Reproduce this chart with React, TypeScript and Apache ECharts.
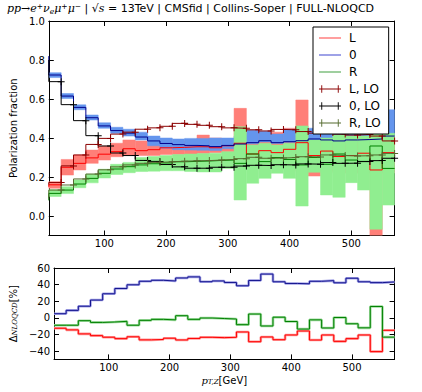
import React, { useEffect, useRef } from "react";
import * as echarts from "echarts";

// ---- data ----
const binEdges = [10, 30, 50, 70, 90, 110, 130, 150, 170, 190, 210, 230, 250, 270, 290, 310, 330, 350, 370, 390, 410, 430, 450, 470, 490, 510, 530, 550, 570];
const xTicks = [100, 200, 300, 400, 500];
const fracTicks = [0, 0.2, 0.4, 0.6, 0.8, 1.0];
const deltaTicks = [-40, -20, 0, 20, 40, 60];

// NLO polarization fractions (step lines)
const fracL_NLO = [0.16, 0.25, 0.27, 0.298, 0.317, 0.33, 0.345, 0.335, 0.34, 0.35, 0.352, 0.355, 0.355, 0.35, 0.36, 0.373, 0.318, 0.335, 0.325, 0.342, 0.376, 0.31, 0.333, 0.305, 0.31, 0.322, 0.236, 0.325];
const frac0_NLO = [0.723, 0.615, 0.557, 0.504, 0.462, 0.438, 0.425, 0.405, 0.385, 0.372, 0.366, 0.362, 0.36, 0.356, 0.362, 0.369, 0.376, 0.386, 0.376, 0.381, 0.386, 0.395, 0.39, 0.385, 0.39, 0.392, 0.395, 0.41];
const fracR_NLO = [0.116, 0.133, 0.164, 0.193, 0.219, 0.241, 0.253, 0.262, 0.268, 0.272, 0.278, 0.28, 0.282, 0.285, 0.287, 0.27, 0.318, 0.279, 0.3, 0.29, 0.262, 0.3, 0.265, 0.318, 0.287, 0.28, 0.359, 0.244];
// NLO uncertainty bands
const bandL_lo = [0.142, 0.21, 0.236, 0.27, 0.287, 0.304, 0.313, 0.31, 0.31, 0.315, 0.315, 0.318, 0.32, 0.325, 0.33, 0.25, 0.24, 0.25, 0.25, 0.24, 0.23, 0.205, 0.23, 0.22, 0.22, 0.22, -0.1, 0.22];
const bandL_hi = [0.176, 0.29, 0.313, 0.338, 0.359, 0.373, 0.39, 0.385, 0.385, 0.38, 0.385, 0.385, 0.415, 0.4, 0.39, 0.552, 0.44, 0.42, 0.43, 0.45, 0.595, 0.39, 0.4, 0.39, 0.4, 0.4, 0.34, 0.41];
const band0_lo = [0.71, 0.603, 0.545, 0.492, 0.45, 0.424, 0.41, 0.39, 0.36, 0.348, 0.34, 0.338, 0.337, 0.336, 0.345, 0.355, 0.37, 0.38, 0.372, 0.378, 0.38, 0.39, 0.375, 0.37, 0.38, 0.38, 0.38, 0.41];
const band0_hi = [0.735, 0.628, 0.57, 0.518, 0.478, 0.455, 0.445, 0.43, 0.41, 0.4, 0.395, 0.398, 0.398, 0.4, 0.4, 0.41, 0.44, 0.435, 0.42, 0.445, 0.44, 0.45, 0.42, 0.42, 0.43, 0.43, 0.43, 0.545];
const bandR_lo = [0.1, 0.115, 0.145, 0.17, 0.195, 0.213, 0.222, 0.228, 0.23, 0.232, 0.232, 0.228, 0.226, 0.226, 0.244, 0.082, 0.168, 0.193, 0.219, 0.193, 0.051, 0.224, 0.108, 0.096, 0.171, 0.133, -0.068, 0.056];
const bandR_hi = [0.135, 0.15, 0.185, 0.215, 0.24, 0.265, 0.275, 0.3, 0.305, 0.31, 0.315, 0.318, 0.32, 0.322, 0.33, 0.458, 0.364, 0.373, 0.364, 0.373, 0.462, 0.39, 0.4, 0.415, 0.41, 0.41, 0.42, 0.424];
// LO polarization fractions
const fracL_LO = [0.172, 0.257, 0.313, 0.367, 0.398, 0.42, 0.43, 0.445, 0.452, 0.46, 0.475, 0.47, 0.465, 0.458, 0.452, 0.45, 0.442, 0.436, 0.444, 0.442, 0.433, 0.425, 0.428, 0.42, 0.415, 0.418, 0.41, 0.385];
const frac0_LO = [0.689, 0.571, 0.489, 0.412, 0.359, 0.323, 0.31, 0.285, 0.28, 0.264, 0.252, 0.245, 0.245, 0.25, 0.25, 0.256, 0.26, 0.259, 0.263, 0.262, 0.267, 0.266, 0.274, 0.27, 0.271, 0.279, 0.284, 0.296];
const fracR_LO = [0.133, 0.159, 0.19, 0.215, 0.237, 0.252, 0.262, 0.27, 0.275, 0.278, 0.281, 0.283, 0.284, 0.287, 0.29, 0.294, 0.301, 0.296, 0.297, 0.3, 0.304, 0.303, 0.313, 0.31, 0.308, 0.309, 0.313, 0.321];
// values just below the first bin (left edge of the step lines)
const startL_NLO = 0.15, start0_NLO = 0.82, startR_NLO = 0.08;
const startL_LO = 0.16, start0_LO = 0.8, startR_LO = 0.09;

// Delta_NLOQCD [%]
const deltaL = [-12.5, -14.5, -19.3, -21.4, -23.3, -25, -22.8, -26.5, -26, -24.5, -26.6, -24.8, -23.4, -23.8, -23.4, -17, -28.7, -23, -26.3, -20.6, -15.8, -26.7, -20.6, -28.3, -25, -20.6, -40.6, -15];
const delta0 = [5, 9, 14, 21.4, 29, 35.3, 39.8, 44, 45.2, 44.4, 48, 49.3, 43.5, 44.4, 42.6, 38.6, 45, 52.7, 43.4, 41.4, 41, 44, 44.8, 42.2, 47.7, 43.4, 42.4, 43.2];
const deltaR = [-8.9, -8.9, -3.4, -5.5, -5, -4.2, -8.9, -3, -1.8, -2.4, 2.6, -1.8, -0.2, -0.8, -1.4, -8.2, 4.6, -9.8, 0.8, -4.4, -13.5, -2.4, -12.2, 0.4, -7.1, -12, 13.7, -23.2];

// ---- helpers ----
function stepPoints(start: number, vals: number[]) {
  const pts: any[] = [{ value: [binEdges[0], start], symbol: "none" }];
  vals.forEach((v, i) => pts.push([binEdges[i + 1], v]));
  return pts;
}
function bandRects(lo: number[], hi: number[]) {
  return lo.map((l, i) => [binEdges[i], binEdges[i + 1], l, hi[i]]);
}
const bandRender = (fill: string) => (_p: any, api: any) => {
  const a = api.coord([api.value(0), api.value(3)]);
  const b = api.coord([api.value(1), api.value(2)]);
  return {
    type: "rect",
    shape: { x: a[0], y: a[1], width: b[0] - a[0], height: b[1] - a[1] },
    style: { fill, stroke: fill, lineWidth: 0.5 },
  };
};

const SANS = "DejaVu Sans";
const SERIF = "DejaVu Serif";
const PLUS = "path://M3,0H4V7H3Z M0,3H7V4H0Z";
const ICON_LINE = "path://M0,1H0.01V1.01H0Z M0,4.2H24V5.8H0Z M0,9H0.01V9.01H0Z";
const ICON_LO = "path://M0,4.5H24V5.5H0Z M2.5,1H3.5V9H2.5Z M20.5,1H21.5V9H20.5Z";

const C = {
  bandL: "#ff7f78", band0: "#6495ed", bandR: "#90ee90",
  lineL: "#ff0000", line0: "#00008b", lineR: "#008000",
  loL: "#8b0000", lo0: "#000000", loR: "#556b2f",
  legL: "#ff8080", leg0: "#7f84e0", legR: "#80c080",
};

const tick = (vals: number[]) => ({ show: true, inside: true, length: 5, customValues: vals, lineStyle: { color: "#000", width: 1 } });
const axLine = { show: true, onZero: false, lineStyle: { color: "#000", width: 1 } };
const minusFmt = (v: number) => (v < 0 ? "\u2212" + Math.abs(v) : String(v));

function buildOption() {
  const lineSeries = (name: string, start: number, vals: number[], color: string, xi: number, yi: number, marker: boolean, width = 1) => ({
    name, type: "line", step: "start", xAxisIndex: xi, yAxisIndex: yi,
    data: stepPoints(start, vals),
    symbol: marker ? PLUS : "none", symbolSize: 7, showSymbol: marker, showAllSymbol: true,
    itemStyle: { color }, lineStyle: { color, width }, emphasis: { disabled: true }, silent: true,
  });
  const band = (name: string, lo: number[], hi: number[], fill: string, xi: number, yi: number) => ({
    name, type: "custom", xAxisIndex: xi, yAxisIndex: yi, clip: true,
    renderItem: bandRender(fill), data: bandRects(lo, hi), encode: { x: [0, 1], y: [2, 3] },
    itemStyle: { color: fill }, silent: true,
  });
  const r = (o: any) => ({ color: "#000", fontWeight: "normal", ...o });

  return {
    animation: false,
    backgroundColor: "#fff",
    title: {
      left: 7, top: 2, padding: 0,
      text: "{m|pp}{u|\u2192}{m|e}{sup|+}{m|\u03bd}{sub|e}{m|\u03bc}{sup|+}{m|\u03bc}{sup|\u2212}{n| | }{u|\u221a}{m|s}{n| = 13TeV | CMSfid | Collins-Soper | FULL-NLOQCD}",
      textStyle: {
        fontWeight: "normal",
        rich: {
          m: r({ fontFamily: SERIF, fontStyle: "italic", fontSize: 11, lineHeight: 13 }),
          u: r({ fontFamily: SERIF, fontSize: 11, lineHeight: 13 }),
          sup: r({ fontFamily: SERIF, fontSize: 7.5, verticalAlign: "top" }),
          sub: r({ fontFamily: SERIF, fontStyle: "italic", fontSize: 7.5, verticalAlign: "bottom" }),
          n: r({ fontFamily: SANS, fontSize: 11, lineHeight: 13 }),
        },
      },
    },
    legend: {
      left: 313, top: 27, orient: "vertical", selectedMode: false,
      backgroundColor: "#fff", borderColor: "#000", borderWidth: 1, borderRadius: 0,
      padding: [4, 8, 4, 6], itemGap: 3, itemWidth: 22, itemHeight: 9,
      textStyle: { fontFamily: SANS, fontSize: 12, color: "#000", lineHeight: 14, padding: [0, 0, 0, 3] },
      data: [
        { name: "L", icon: ICON_LINE, itemStyle: { color: C.legL, borderWidth: 0 } },
        { name: "0", icon: ICON_LINE, itemStyle: { color: C.leg0, borderWidth: 0 } },
        { name: "R", icon: ICON_LINE, itemStyle: { color: C.legR, borderWidth: 0 } },
        { name: "L, LO", icon: ICON_LO, itemStyle: { color: C.loL, borderWidth: 0 } },
        { name: "0, LO", icon: ICON_LO, itemStyle: { color: C.lo0, borderWidth: 0 } },
        { name: "R, LO", icon: ICON_LO, itemStyle: { color: C.loR, borderWidth: 0 } },
      ],
    },
    grid: [
      { left: 45.6, top: 21, width: 349, height: 214.5 },
      { left: 45.6, top: 268, width: 349, height: 91.4 },
    ],
    xAxis: [
      { type: "value", gridIndex: 0, position: "bottom", min: 10, max: 570, axisLine: axLine, axisTick: tick(xTicks), splitLine: { show: false },
        axisLabel: { customValues: xTicks, fontFamily: SANS, fontSize: 10, color: "#000", margin: 3 } },
      { type: "value", gridIndex: 0, position: "top", min: 10, max: 570, axisLine: axLine, axisTick: tick(xTicks), splitLine: { show: false }, axisLabel: { show: false } },
      { type: "value", gridIndex: 1, position: "bottom", min: 10, max: 570, axisLine: axLine, axisTick: tick(xTicks), splitLine: { show: false },
        axisLabel: { customValues: xTicks, fontFamily: SANS, fontSize: 10, color: "#000", margin: 3 },
        name: "{i|p}{s|T,Z}{n|[GeV]}", nameLocation: "middle", nameGap: 16,
        nameTextStyle: { rich: {
          i: r({ fontFamily: SERIF, fontStyle: "italic", fontSize: 10 }),
          s: r({ fontFamily: SERIF, fontStyle: "italic", fontSize: 7, verticalAlign: "bottom" }),
          n: r({ fontFamily: SANS, fontSize: 10 }),
        } } },
      { type: "value", gridIndex: 1, position: "top", min: 10, max: 570, axisLine: axLine, axisTick: tick(xTicks), splitLine: { show: false }, axisLabel: { show: false } },
    ],
    yAxis: [
      { type: "value", gridIndex: 0, position: "left", min: -0.1, max: 1.0, axisLine: axLine, axisTick: tick(fracTicks), splitLine: { show: false },
        axisLabel: { customValues: fracTicks, formatter: (v: number) => v.toFixed(1), fontFamily: SANS, fontSize: 10, color: "#000", margin: 4 },
        name: "Polarization fraction", nameLocation: "middle", nameGap: 25, nameRotate: 90,
        nameTextStyle: { fontFamily: SANS, fontSize: 10, color: "#000" } },
      { type: "value", gridIndex: 0, position: "right", min: -0.1, max: 1.0, axisLine: axLine, axisTick: tick(fracTicks), splitLine: { show: false }, axisLabel: { show: false } },
      { type: "value", gridIndex: 1, position: "left", min: -50, max: 60, axisLine: axLine, axisTick: tick(deltaTicks), splitLine: { show: false },
        axisLabel: { customValues: deltaTicks, formatter: minusFmt, fontFamily: SANS, fontSize: 10, color: "#000", margin: 4 },
        name: "{d|\u0394}{s|NLOQCD}{d|[%]}", nameLocation: "middle", nameGap: 26, nameRotate: 90,
        nameTextStyle: { rich: {
          d: r({ fontFamily: SANS, fontSize: 10 }),
          s: r({ fontFamily: SERIF, fontStyle: "italic", fontSize: 7, verticalAlign: "bottom" }),
        } } },
      { type: "value", gridIndex: 1, position: "right", min: -50, max: 60, axisLine: axLine, axisTick: tick(deltaTicks), splitLine: { show: false }, axisLabel: { show: false } },
    ],
    series: [
      band("L", bandL_lo, bandL_hi, C.bandL, 0, 0),
      band("0", band0_lo, band0_hi, C.band0, 0, 0),
      band("R", bandR_lo, bandR_hi, C.bandR, 0, 0),
      lineSeries("L NLO", startL_NLO, fracL_NLO, C.lineL, 0, 0, false),
      lineSeries("0 NLO", start0_NLO, frac0_NLO, C.line0, 0, 0, false),
      lineSeries("R NLO", startR_NLO, fracR_NLO, C.lineR, 0, 0, false),
      lineSeries("L, LO", startL_LO, fracL_LO, C.loL, 0, 0, true),
      lineSeries("0, LO", start0_LO, frac0_LO, C.lo0, 0, 0, true),
      lineSeries("R, LO", startR_LO, fracR_LO, C.loR, 0, 0, true),
      // lower panel: light halo + line
      lineSeries("dL halo", deltaL[0], deltaL, "#ff9a9a", 2, 2, false, 2.6),
      lineSeries("d0 halo", delta0[0], delta0, "#a3a3e6", 2, 2, false, 2.6),
      lineSeries("dR halo", deltaR[0], deltaR, "#9edb9e", 2, 2, false, 2.6),
      lineSeries("dL", deltaL[0], deltaL, C.lineL, 2, 2, false),
      lineSeries("d0", delta0[0], delta0, "#14148f", 2, 2, false),
      lineSeries("dR", deltaR[0], deltaR, C.lineR, 2, 2, false),
    ],
  };
}

export default function App() {
  const ref = useRef<HTMLDivElement>(null);
  useEffect(() => {
    if (!ref.current) return;
    const chart = echarts.init(ref.current, undefined, { renderer: "svg" });
    chart.setOption(buildOption() as any);
    return () => chart.dispose();
  }, []);
  return <div ref={ref} style={{ position: "fixed", left: 0, top: 0, width: 422, height: 392 }} />;
}
